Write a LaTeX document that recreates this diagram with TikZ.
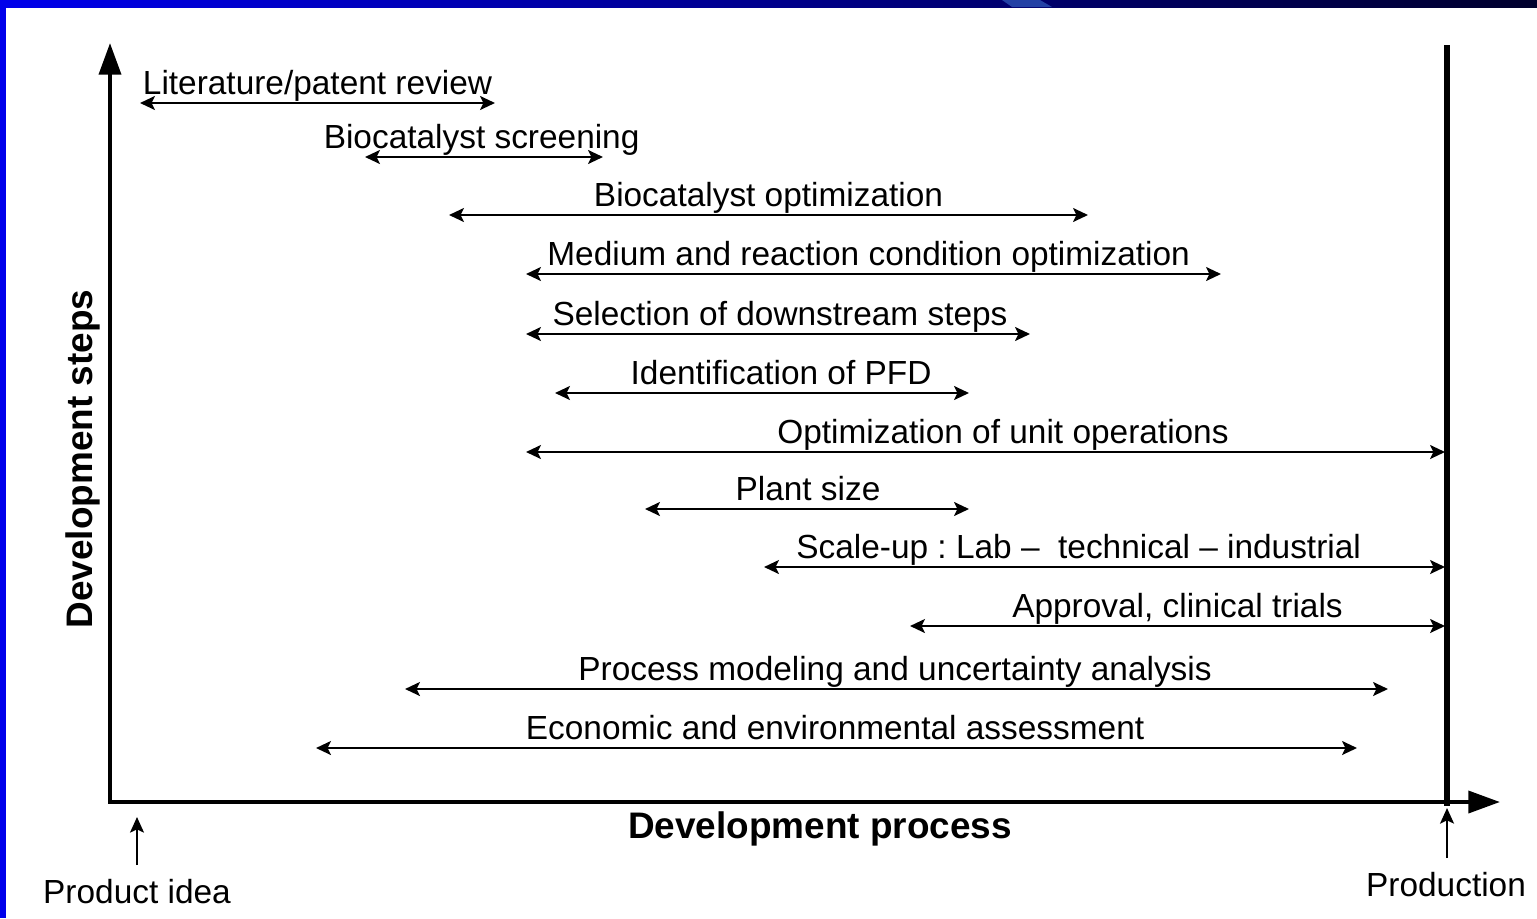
\documentclass[tikz,border=0pt]{standalone}
\usepackage{fontspec}
\setmainfont{Liberation Sans}
\usepackage{tikz}
\usetikzlibrary{arrows.meta}

\definecolor{slideblue}{RGB}{0,0,235}
\definecolor{slidemid}{RGB}{0,0,185}
\definecolor{slidenavy}{RGB}{0,0,45}
\definecolor{slidestreak}{RGB}{35,65,165}

\tikzset{
  bar/.style={line width=0.8pt,
    {Stealth[length=4.2pt,width=3.9pt,inset=0.9pt]}-{Stealth[length=4.2pt,width=3.9pt,inset=0.9pt]}},
  bar label/.style={anchor=base, yshift=2.5pt, inner sep=0pt, font=\fontsize{9.5}{11}\selectfont\frenchspacing},
  axis/.style={line width=1.2pt, -{Triangle[length=9pt,width=6.2pt]}},
  milestone/.style={line width=0.8pt, -{Stealth[length=4.4pt,width=3.9pt,inset=0.9pt]}},
  milestone label/.style={anchor=north, inner sep=4pt, font=\fontsize{9.5}{11}\selectfont},
  axis label/.style={anchor=base, inner sep=0pt, font=\fontsize{10.5}{12}\selectfont\bfseries},
}

\begin{document}
\begin{tikzpicture}[x=0.01cm, y=-0.01cm]
    \useasboundingbox (0,0) rectangle (1537,918);

    % Slide frame
    \shade[left color=slideblue, middle color=slidemid, right color=slidenavy] (0,0) rectangle (1537,7);
    \fill[slidestreak] (1002,0) -- (1040,0) -- (1052,7) -- (1012,7) -- cycle;
    \fill[slideblue] (0,0) rectangle (6,918);

    % Axes
    \coordinate (O) at (110,802);
    \coordinate (ytop) at (110,43);
    \coordinate (xend) at (1500,802);
    \draw[axis] (O) -- (ytop);
    \draw[axis] (108,802) -- (xend);
    \node[axis label, rotate=90] (ysteps) at (92,459) {Development steps};
    \node[axis label] (xproc) at (820,838) {Development process};

    % Production line
    \coordinate (P1) at (1447,45);
    \coordinate (P2) at (1447,806);
    \draw[line width=1.5pt] (P1) -- (P2);

    % Start and end of the process
    \node[milestone label] (idea) at (137,865) {Product idea};
    \coordinate (idea top) at (137,817);
    \draw[milestone] (idea.north) -- (idea top);
    \node[milestone label] (prod) at (1446,858) {Production};
    \coordinate (prod top) at (1447,808);
    \draw[milestone] (prod.north -| prod top) -- (prod top);

    % Literature/patent review
    \coordinate (lit1) at (140,103);
    \coordinate (lit2) at (495,103);
    \draw[bar] (lit1) -- (lit2) node[pos=0.5, bar label] (lit) {Literature/patent review};

    % Biocatalyst screening
    \coordinate (scr1) at (365,157);
    \coordinate (scr2) at (603,157);
    \draw[bar] (scr1) -- (scr2) node[pos=0.49, bar label] (scr) {Biocatalyst screening};

    % Biocatalyst optimization
    \coordinate (bopt1) at (449,215);
    \coordinate (bopt2) at (1088,215);
    \draw[bar] (bopt1) -- (bopt2) node[pos=0.5, bar label] (bopt) {Biocatalyst optimization};

    % Medium and reaction conditions
    \coordinate (med1) at (526,274);
    \coordinate (med2) at (1221,274);
    \draw[bar] (med1) -- (med2) node[pos=0.493, bar label] (med) {Medium and reaction condition optimization};

    % Downstream steps
    \coordinate (down1) at (526,334);
    \coordinate (down2) at (1030,334);
    \draw[bar] (down1) -- (down2) node[pos=0.504, bar label] (down) {Selection of downstream steps};

    % Process flow diagram
    \coordinate (pfd1) at (555,393);
    \coordinate (pfd2) at (969,393);
    \draw[bar] (pfd1) -- (pfd2) node[pos=0.546, bar label] (pfd) {Identification of PFD};

    % Unit operations
    \coordinate (unit1) at (526,452);
    \coordinate (unit2) at (1445,452);
    \draw[bar] (unit1) -- (unit2) node[pos=0.519, bar label] (unit) {Optimization of unit operations};

    % Plant size
    \coordinate (size1) at (645,509);
    \coordinate (size2) at (969,509);
    \draw[bar] (size1) -- (size2) node[pos=0.503, bar label] (size) {Plant size};

    % Scale-up
    \coordinate (scale1) at (764,567);
    \coordinate (scale2) at (1445,567);
    \draw[bar] (scale1) -- (scale2) node[pos=0.462, bar label] (scale) {Scale-up : Lab \textendash\ \ technical \textendash\ industrial};

    % Approval
    \coordinate (appr1) at (910,626);
    \coordinate (appr2) at (1445,626);
    \draw[bar] (appr1) -- (appr2) node[pos=0.5, bar label] (appr) {Approval, clinical trials};

    % Process modeling
    \coordinate (model1) at (405,689);
    \coordinate (model2) at (1388,689);
    \draw[bar] (model1) -- (model2) node[pos=0.4985, bar label] (model) {Process modeling and uncertainty analysis};

    % Economic and environmental assessment
    \coordinate (eco1) at (316,748);
    \coordinate (eco2) at (1357,748);
    \draw[bar] (eco1) -- (eco2) node[pos=0.4986, bar label] (eco) {Economic and environmental assessment};
\end{tikzpicture}
\end{document}
